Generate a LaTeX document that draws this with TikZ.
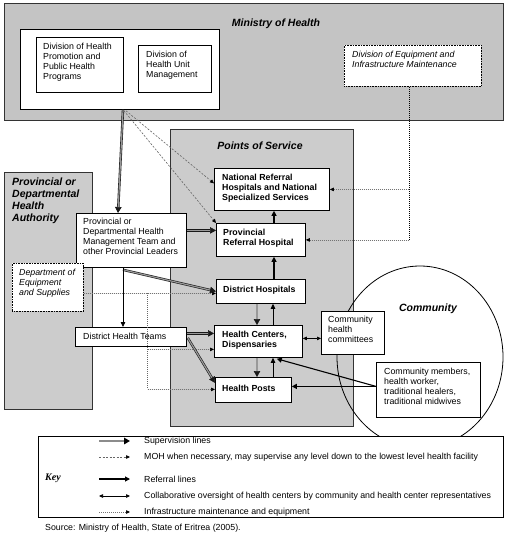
\documentclass[tikz,border=0pt]{standalone}
\usepackage{fontspec}
\setmainfont{Liberation Sans}
\newfontfamily\keyserif{Liberation Serif}
\usetikzlibrary{arrows.meta,calc,shapes.geometric}
\definecolor{areagray}{RGB}{196,196,196}
\definecolor{areagray2}{RGB}{204,204,204}
\begin{document}
\begin{tikzpicture}[x=1pt,y=-1pt,
  area/.style={draw=black!80, line width=0.9pt, fill=areagray, anchor=north west, inner sep=0},
  wbox/.style={draw=black, line width=0.8pt, fill=white, anchor=north west, inner sep=0},
  dbox/.style={draw=black, line width=0.9pt, dash pattern=on 0.8pt off 0.8pt, fill=white, anchor=north west, inner sep=0},
  tx/.style={anchor=north west, inner sep=0, align=left, font=\fontsize{8.8}{9.9}\selectfont},
  txb/.style={tx, font=\fontsize{8.8}{9.9}\selectfont\bfseries},
  txi/.style={tx, font=\fontsize{8.8}{9.9}\selectfont\itshape},
  ttl/.style={inner sep=0, align=left, font=\fontsize{10.5}{12}\selectfont\bfseries\itshape},
  sup/.style={draw=black!90, double=black!40, double distance=1.2pt, line width=0.6pt, -{Triangle[length=6pt,width=6.5pt]}},
  supkey/.style={draw=black!45, line width=2.4pt, -{Triangle[length=6pt,width=6.5pt,color=black]}},
  refl/.style={line width=1.1pt, -{Triangle[length=5pt,width=5pt]}},
  thinref/.style={line width=0.8pt, -{Triangle[length=5pt,width=4.5pt]}},
  mohl/.style={draw=black!60, line width=0.6pt, dash pattern=on 2pt off 1.5pt, -{Triangle[length=4pt,width=3.5pt,color=black]}},
  infl/.style={draw=black!55, line width=0.7pt, dash pattern=on 1pt off 1pt, -{Triangle[length=4pt,width=3.5pt,color=black]}},
  infv/.style={draw=black, line width=0.9pt, dash pattern=on 1pt off 1pt},
  coll/.style={line width=0.7pt, {Triangle[length=4pt,width=3.5pt]}-{Triangle[length=4pt,width=3.5pt]}},
]
\useasboundingbox (0,0) rectangle (506,538);
\fill[white] (0,0) rectangle (506,538);

% ---------- areas ----------
\node[area, minimum width=499, minimum height=117] (moh) at (4,3) {};
\node[ttl, anchor=center] (mohT) at (276,24) {Ministry of Health};
\node[area, fill=areagray2, minimum width=183, minimum height=297] (pos) at (170,129) {};
\node[ttl, anchor=center] (posT) at (260,146) {Points of Service};
\node[area, fill=areagray2, minimum width=88, minimum height=237] (pha) at (4,172) {};
\node[ttl, anchor=north west] (phaT) at (12,178) {Provincial or\\Departmental\\Health\\Authority};
\node[draw, line width=0.8pt, ellipse, minimum width=166, minimum height=182, inner sep=0] (comm) at (420,357) {};
\node[ttl, anchor=center] (commT) at (428,309) {Community};

% ---------- Ministry boxes ----------
\node[wbox, minimum width=199, minimum height=80] (mohin) at (20,29) {};
\node[wbox, minimum width=87, minimum height=55] (div1) at (36,37) {};
\node[tx] (div1T) at (43,43) {Division of Health\\Promotion and\\Public Health\\Programs};
\node[wbox, minimum width=73, minimum height=47] (div2) at (138,45) {};
\node[tx] (div2T) at (146,51) {Division of\\Health Unit\\Management};
\node[dbox, minimum width=137, minimum height=41] (equip) at (344,45) {};
\node[txi] (equipT) at (352,51) {Division of Equipment and\\Infrastructure Maintenance};

% ---------- Points of service ----------
\node[wbox, minimum width=115, minimum height=42] (nrh) at (214,168) {};
\node[txb] (nrhT) at (222,174) {National Referral\\Hospitals and National\\Specialized Services};
\node[wbox, minimum width=89, minimum height=33] (prh) at (216,223) {};
\node[txb] (prhT) at (223,229) {Provincial\\Referral Hospital};
\node[wbox, minimum width=89, minimum height=24] (dh) at (216,279) {};
\node[txb, anchor=west] (dhT) at (223,290) {District Hospitals};
\node[wbox, minimum width=88, minimum height=32] (hc) at (214,325) {};
\node[txb] (hcT) at (222,331) {Health Centers,\\Dispensaries};
\node[wbox, minimum width=76, minimum height=25] (hp) at (215,377) {};
\node[txb, anchor=west] (hpT) at (222,388) {Health Posts};

% ---------- Provincial ----------
\node[wbox, minimum width=110, minimum height=54] (ptm) at (76,213) {};
\node[tx] (ptmT) at (83,218) {Provincial or\\Departmental Health\\Management Team and\\other Provincial Leaders};
\node[dbox, minimum width=71, minimum height=48] (dept) at (12,263) {};
\node[txi] (deptT) at (19,269) {Department of\\Equipment\\and Supplies};
\node[wbox, minimum width=111, minimum height=19] (dht) at (75,327) {};
\node[tx, anchor=west] (dhtT) at (83,336) {District Health Teams};

% ---------- Community ----------
\node[wbox, minimum width=63, minimum height=43] (chc) at (321,311) {};
\node[tx] (chcT) at (328,316) {Community\\health\\committees};
\node[wbox, minimum width=104, minimum height=55] (cm) at (376,362) {};
\node[tx] (cmT) at (384,368) {Community members,\\health worker,\\traditional healers,\\traditional midwives};

% ---------- connectors ----------
% MOH supervision to provincial team
\draw[sup] ($(mohin.south west)+(103,0)$) -- ($(ptm.north west)+(42,0)$);
% MOH may supervise any level
\draw[mohl] ($(mohin.south west)+(106,1)$) -- ($(nrh.west)+(0,-6)$);
\draw[mohl] ($(mohin.south west)+(104,1)$) -- (prh.north west);
% infrastructure from Division of Equipment
\coordinate (ie) at ($(equip.south)+(-3.5,0)$);
\draw[infv] (ie) -- (ie |- prh.east);
\draw[infl] (ie |- prh.east) -- (prh.east);
\draw[infl] (ie |- nrh.east) -- (nrh.east);
% infrastructure from Department of Equipment
\coordinate (de) at ($(dept.east)+(0,6)$);
\coordinate (dv) at ($(dept.east)+(64,6)$);
\draw[infl] (de) -- ($(dh.west)+(0,2)$);
\draw[infv, draw=black!60] (dv) -- ($(dv)+(0,96)$);
\draw[infl] ($(dv)+(0,56)$) -- ($(hc.west)+(0,8)$);
\draw[infl] ($(dv)+(0,96)$) -- ($(hp.west)+(0,-0.5)$);
% provincial team
\draw[sup] ($(ptm.east)+(0,-10)$) -- ($(prh.west)+(0,-9.5)$);
\draw[sup] ($(ptm.south west)+(47,2)$) -- (dh.west);
\draw[thinref] ($(ptm.south west)+(47,0)$) -- ($(dht.north west)+(48,0)$);
% district health teams
\draw[sup] ($(dht.east)+(0,-3.5)$) -- ($(hc.west)+(0,-8)$);
\draw[sup] ($(dht.east)+(1,1)$) -- ($(hp.west)+(0,-7)$);
% points of service referrals
\draw[refl] ($(prh.north west)+(58,0)$) -- ($(nrh.south west)+(60,0)$);
\draw[refl] ($(dh.north west)+(58,0)$) -- ($(prh.south west)+(58,0)$);
\draw[sup] ($(dh.south west)+(41,0)$) -- ($(hc.north west)+(43,0)$);
\draw[thinref] ($(hc.north west)+(59,0)$) -- ($(dh.south west)+(57,0)$);
\draw[sup] ($(hc.south west)+(43,0)$) -- ($(hp.north west)+(42,0)$);
\draw[thinref] ($(hp.north west)+(58,0)$) -- ($(hc.south west)+(59,0)$);
% community
\draw[coll] ($(hc.east)+(0,-3)$) -- ($(chc.west)+(0,5.5)$);
\draw[refl] ($(cm.west)+(0,-3.5)$) -- ($(hp.east)+(0,-3.5)$);
\draw[refl] ($(cm.west)+(0,-3.5)$) -- ($(hc.south east)+(-26,1)$);

% ---------- key ----------
\node[wbox, minimum width=465, minimum height=81] (key) at (38,436) {};
\node[anchor=west, inner sep=0, font=\keyserif\fontsize{10}{12}\selectfont\bfseries\itshape] (keyT) at (45,478) {Key};
\coordinate (k1a) at (99,441); \coordinate (k1b) at (130,441);
\coordinate (k2a) at (99,457); \coordinate (k2b) at (130,457);
\coordinate (k3a) at (99,479); \coordinate (k3b) at (130,479);
\coordinate (k4a) at (99,496); \coordinate (k4b) at (130,496);
\coordinate (k5a) at (99,512); \coordinate (k5b) at (130,512);
\draw[supkey] (k1a) -- (k1b);
\draw[mohl] (k2a) -- (k2b);
\draw[refl] (k3a) -- (k3b);
\draw[coll] (k4a) -- (k4b);
\draw[infl] (k5a) -- (k5b);
\node[tx, anchor=west] (k1T) at (144,441) {Supervision lines};
\node[tx, anchor=west] (k2T) at (144,457) {MOH when necessary, may supervise any level down to the lowest level health facility};
\node[tx, anchor=west] (k3T) at (144,479) {Referral lines};
\node[tx, anchor=west] (k4T) at (144,496) {Collaborative oversight of health centers by community and health center representatives};
\node[tx, anchor=west] (k5T) at (144,512) {Infrastructure maintenance and equipment};
\node[tx, anchor=west] (srcT) at (45,528) {Source: Ministry of Health, State of Eritrea (2005).};
\end{tikzpicture}
\end{document}
